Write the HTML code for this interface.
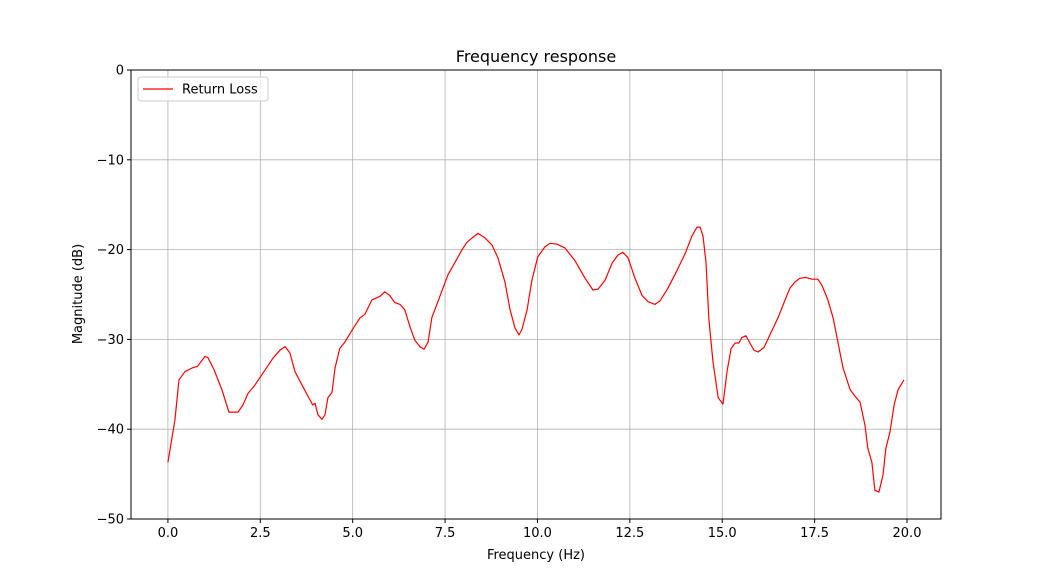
<!DOCTYPE html>
<html><head><meta charset="utf-8"><style>
body{margin:0;background:#fff;}
svg text{font-family:"DejaVu Sans","Liberation Sans",sans-serif;fill:#000;}
</style></head><body>
<svg id="chart" width="1046" height="583" xmlns="http://www.w3.org/2000/svg">
<rect width="1046" height="583" fill="#fff"/>
<g id="grid"></g>
<g id="ticks"></g>
<polyline id="line" fill="none" stroke="#ff0000" stroke-width="1.2" stroke-linejoin="round"/>
<rect x="131" y="70" width="810" height="449" fill="none" stroke="#000" stroke-width="1"/>
<text x="536" y="62" font-size="16" text-anchor="middle">Frequency response</text>
<text x="536" y="559" font-size="13" text-anchor="middle">Frequency (Hz)</text>
<text transform="translate(82,294) rotate(-90)" font-size="13" text-anchor="middle">Magnitude (dB)</text>
<g>
<rect x="138" y="77" width="130" height="24" rx="3" fill="#fff" fill-opacity="0.8" stroke="#ccc"/>
<line x1="143" y1="89" x2="173" y2="89" stroke="#ff0000" stroke-width="1.2"/>
<text x="182" y="93.5" font-size="13">Return Loss</text>
</g>
</svg>
<script>
const freqs=[0,0.19,0.3,0.46,0.65,0.8,1.0,1.08,1.25,1.46,1.65,1.9,2.03,2.17,2.35,2.63,2.84,3.03,3.17,3.3,3.44,3.63,3.84,3.92,3.98,4.06,4.17,4.25,4.33,4.44,4.52,4.65,4.79,4.98,5.2,5.33,5.52,5.74,5.87,6.0,6.14,6.28,6.41,6.55,6.68,6.82,6.93,7.04,7.14,7.36,7.58,7.77,7.96,8.09,8.23,8.39,8.58,8.77,8.93,9.12,9.26,9.39,9.5,9.58,9.72,9.85,10.01,10.2,10.34,10.53,10.74,11.01,11.29,11.5,11.64,11.83,12.02,12.18,12.31,12.45,12.64,12.83,12.99,13.18,13.32,13.53,13.78,14.0,14.19,14.32,14.4,14.48,14.56,14.64,14.75,14.89,15.02,15.13,15.24,15.35,15.45,15.53,15.64,15.75,15.86,15.97,16.13,16.29,16.51,16.7,16.83,16.97,17.1,17.27,17.43,17.59,17.7,17.86,18.0,18.13,18.27,18.46,18.59,18.73,18.86,18.94,19.05,19.13,19.24,19.35,19.43,19.54,19.65,19.76,19.92];
const magnitudes=[-43.7,-39,-34.5,-33.6,-33.2,-33,-31.9,-32,-33.4,-35.6,-38.1,-38.1,-37.3,-36,-35.1,-33.4,-32.1,-31.2,-30.8,-31.5,-33.6,-35.1,-36.7,-37.3,-37.1,-38.4,-38.9,-38.4,-36.5,-35.9,-33.2,-31,-30.3,-29,-27.6,-27.2,-25.6,-25.2,-24.7,-25.1,-25.9,-26.1,-26.7,-28.6,-30.1,-30.8,-31.1,-30.3,-27.6,-25.2,-22.8,-21.4,-20,-19.2,-18.7,-18.2,-18.7,-19.5,-20.9,-23.6,-26.7,-28.7,-29.5,-28.9,-26.7,-23.4,-20.8,-19.7,-19.3,-19.4,-19.8,-21.2,-23.2,-24.5,-24.4,-23.4,-21.5,-20.6,-20.3,-20.9,-23.2,-25.1,-25.8,-26.1,-25.7,-24.3,-22.3,-20.4,-18.4,-17.5,-17.5,-18.5,-21.4,-27.8,-32.5,-36.5,-37.2,-33.6,-31,-30.4,-30.4,-29.8,-29.6,-30.4,-31.2,-31.4,-30.9,-29.5,-27.6,-25.6,-24.3,-23.6,-23.2,-23.1,-23.3,-23.3,-24,-25.6,-27.6,-30.3,-33.2,-35.6,-36.3,-37,-39.5,-42.1,-43.7,-46.8,-47,-45.1,-42.1,-40.3,-37.3,-35.6,-34.5];
const xTicks=[0,2.5,5,7.5,10,12.5,15,17.5,20];
const xTickLabels=["0.0","2.5","5.0","7.5","10.0","12.5","15.0","17.5","20.0"];
const yTicks=[0,-10,-20,-30,-40,-50];
const yTickLabels=["0","\u221210","\u221220","\u221230","\u221240","\u221250"];

const X0=131,X1=941,Y0=70,Y1=519;
const xmin=-0.999,xmax=20.92,ymin=-50,ymax=0;
const sx=v=>X0+(v-xmin)/(xmax-xmin)*(X1-X0);
const sy=v=>Y1-(v-ymin)/(ymax-ymin)*(Y1-Y0);
const NS="http://www.w3.org/2000/svg";
const grid=document.getElementById('grid'),ticks=document.getElementById('ticks');
function mk(p,tag,attrs){const e=document.createElementNS(NS,tag);for(const k in attrs)e.setAttribute(k,attrs[k]);p.appendChild(e);return e;}
xTicks.forEach((t,i)=>{
  const x=sx(t);
  const g=mk(grid,'line',{x1:x,x2:x,y1:Y0,y2:Y1,stroke:'#b0b0b0','stroke-width':0.8});
  
  
  mk(ticks,'line',{x1:x,x2:x,y1:Y1,y2:Y1+4,stroke:'#000'});
  const tx=mk(ticks,'text',{x:x,y:Y1+18,'font-size':13,'text-anchor':'middle'});
  tx.textContent=xTickLabels[i];
  
  
});
yTicks.forEach((t,i)=>{
  const y=sy(t);
  const g=mk(grid,'line',{x1:X0,x2:X1,y1:y,y2:y,stroke:'#b0b0b0','stroke-width':0.8});
  
  
  mk(ticks,'line',{x1:X0-4,x2:X0,y1:y,y2:y,stroke:'#000'});
  const tx=mk(ticks,'text',{x:X0-7,y:y+4.5,'font-size':13,'text-anchor':'end'});
  tx.textContent=yTickLabels[i];
  
  
});
document.getElementById('line').setAttribute('points',freqs.map((f,i)=>sx(f).toFixed(1)+','+sy(magnitudes[i]).toFixed(1)).join(' '));
</script>
</body></html>
